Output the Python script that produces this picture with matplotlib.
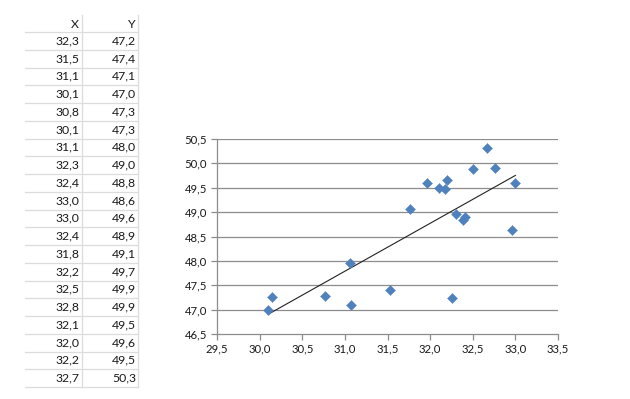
import matplotlib
matplotlib.use("Agg")
import matplotlib.pyplot as plt
from matplotlib.lines import Line2D
import numpy as np

plt.rcParams['font.family'] = ['Lato', 'DejaVu Sans']

# data points in sheet order
x_vals = [32.26, 31.53, 31.07, 30.10, 30.77, 30.14, 31.06, 32.30, 32.39, 32.96,
          33.00, 32.41, 31.76, 32.20, 32.50, 32.76, 32.10, 31.96, 32.17, 32.67]
y_vals = [47.23, 47.40, 47.10, 47.00, 47.28, 47.26, 47.96, 48.96, 48.83, 48.63,
          49.60, 48.90, 49.06, 49.66, 49.88, 49.90, 49.50, 49.60, 49.48, 50.32]
col_names = ["X", "Y"]
x_ticks = [29.5, 30.0, 30.5, 31.0, 31.5, 32.0, 32.5, 33.0, 33.5]
y_ticks = [46.5, 47.0, 47.5, 48.0, 48.5, 49.0, 49.5, 50.0, 50.5]


def fmt(v):
    return f"{v:.1f}".replace('.', ',')


W, H = 630, 399
fig = plt.figure(figsize=(W / 100, H / 100), dpi=100)

# ---- spreadsheet table on the left (pixel coords -> figure fractions)
def fx(px):
    return px / W

def fy(py):
    return 1 - py / H

grid_c = '#dcdcdc'
row_h = 17.75
top_line = 32
n = len(x_vals)
col_right = [79, 136]
txt_size = 8.8

for j, name in enumerate(col_names):
    fig.text(fx(col_right[j]), fy(24), name, ha='right', va='center',
             fontsize=txt_size, color='#1a1a1a')

for i in range(n + 1):
    y = top_line + i * row_h
    fig.add_artist(Line2D([fx(25), fx(138)], [fy(y), fy(y)], color=grid_c, lw=0.9))
for vx in [82, 138]:
    fig.add_artist(Line2D([fx(vx), fx(vx)], [fy(15), fy(top_line + n * row_h)],
                          color=grid_c, lw=0.9))

for i in range(n):
    yc = top_line + (i + 0.5) * row_h
    fig.text(fx(col_right[0]), fy(yc), fmt(x_vals[i]), ha='right', va='center',
             fontsize=txt_size, color='#1a1a1a')
    fig.text(fx(col_right[1]), fy(yc), fmt(y_vals[i]), ha='right', va='center',
             fontsize=txt_size, color='#1a1a1a')

# ---- scatter chart
ax = fig.add_axes([fx(217), fy(334), fx(558) - fx(217), fy(139) - fy(334)])
ax.set_xlim(x_ticks[0], x_ticks[-1])
ax.set_ylim(y_ticks[0], y_ticks[-1])
ax.set_xticks(x_ticks)
ax.set_yticks(y_ticks)
ax.set_xticklabels([fmt(t) for t in x_ticks])
ax.set_yticklabels([fmt(t) for t in y_ticks])

for t in y_ticks[1:]:
    ax.axhline(t, color='#8c8c8c', lw=0.9, zorder=0)

for s in ['top', 'right']:
    ax.spines[s].set_visible(False)
for s in ['left', 'bottom']:
    ax.spines[s].set_color('#8c8c8c')
    ax.spines[s].set_linewidth(0.9)

ax.tick_params(axis='both', direction='out', length=4, width=0.9, color='#8c8c8c',
               labelsize=8.2, labelcolor='#1a1a1a', pad=3)

ax.scatter(x_vals, y_vals, marker='D', s=26, color='#4f81bd', edgecolors='#4f81bd',
           linewidths=0.3, zorder=3, clip_on=False)

coef = np.polyfit(x_vals, y_vals, 1)
xl = np.array([min(x_vals), max(x_vals)])
ax.plot(xl, np.polyval(coef, xl), color='#222222', lw=0.8, zorder=2)

fig.savefig("out.png", dpi=100)
